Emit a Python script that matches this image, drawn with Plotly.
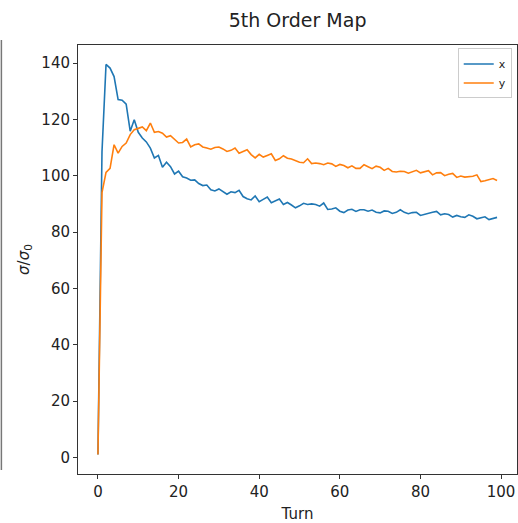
import plotly.graph_objects as go

# Beam size ratio per turn for the 5th order map
turns = list(range(100))

sigma_x = [
    1.0, 108.5, 139.5, 138.2, 135.2, 127.0, 126.8, 125.4, 115.8, 119.9,
    115.4, 113.4, 112.0, 109.8, 106.3, 107.2, 103.0, 104.8, 103.2, 100.6,
    101.6, 99.6, 99.2, 98.4, 98.5, 97.2, 96.5, 96.7, 95.0, 94.6,
    95.3, 94.4, 93.4, 94.3, 94.0, 94.8, 92.6, 91.8, 91.4, 92.8,
    90.8, 91.6, 92.4, 90.4, 91.2, 91.7, 89.8, 90.5, 89.6, 88.6,
    89.3, 90.2, 89.8, 90.0, 89.8, 89.2, 90.3, 88.0, 88.2, 88.6,
    87.4, 86.9, 87.8, 88.1, 87.3, 87.9, 87.9, 87.4, 87.8, 87.0,
    86.8, 87.5, 87.4, 86.6, 87.0, 87.9, 87.0, 86.5, 86.9, 87.0,
    85.9, 86.3, 86.8, 87.0, 87.3, 86.1, 86.5, 86.2, 85.3, 85.9,
    85.4, 85.2, 86.1, 85.6, 84.7, 85.0, 85.4, 84.4, 84.8, 85.2,
]

sigma_y = [
    1.0, 94.0, 101.2, 102.6, 111.0, 108.0, 110.4, 111.6, 114.6, 116.3,
    116.8, 117.3, 116.0, 118.7, 115.4, 115.7, 115.1, 113.7, 114.2, 113.0,
    111.6, 111.8, 113.0, 110.2, 111.0, 111.3, 110.2, 109.8, 109.4, 110.0,
    110.2, 109.5, 108.6, 109.0, 109.8, 108.0, 108.6, 109.2, 107.5, 106.3,
    107.6, 106.6, 107.2, 107.8, 105.4, 106.0, 107.1, 106.2, 105.9, 105.3,
    104.8, 104.6, 106.0, 104.3, 104.5, 104.3, 103.9, 104.5, 104.2, 103.3,
    104.0, 103.6, 102.8, 103.5, 102.6, 102.6, 103.9, 103.2, 102.5, 103.4,
    103.0, 101.9, 102.6, 101.5, 101.3, 101.6, 101.5, 100.9, 101.4, 101.9,
    101.0, 101.3, 101.8, 100.3, 101.0, 101.1, 100.0, 100.5, 100.8, 99.4,
    99.9, 99.5, 99.6, 99.8, 100.3, 97.9, 98.2, 98.5, 99.0, 98.3,
]

x_ticks = [0, 20, 40, 60, 80, 100]
y_ticks = [0, 20, 40, 60, 80, 100, 120, 140]

FONT = "DejaVu Sans"
AXIS_COLOR = "#333333"

fig = go.Figure()
fig.add_trace(go.Scatter(x=turns, y=sigma_x, mode="lines", name="x",
                         line=dict(color="#1f77b4", width=1.6)))
fig.add_trace(go.Scatter(x=turns, y=sigma_y, mode="lines", name="y",
                         line=dict(color="#ff7f0e", width=1.6)))

axis_common = dict(
    showgrid=False, zeroline=False, showline=True, mirror=True,
    linecolor=AXIS_COLOR, linewidth=1,
    ticks="outside", ticklen=4, tickwidth=1, tickcolor=AXIS_COLOR,
    tickfont=dict(family=FONT, size=15, color="#222222"),
)

fig.update_layout(
    width=518, height=523,
    margin=dict(l=78, r=1, t=45, b=49),
    paper_bgcolor="white", plot_bgcolor="white",
    title=dict(text="5th Order Map", x=0.5745, xanchor="center",
               y=0.962, yanchor="middle",
               font=dict(family=FONT, size=19, color="#222222")),
    xaxis=dict(range=[-4.95, 103.95], tickvals=x_ticks,
               title=dict(text="Turn", standoff=8,
                          font=dict(family=FONT, size=15, color="#222222")),
               **axis_common),
    yaxis=dict(range=[-5.9, 146.4], tickvals=y_ticks,
               title=dict(text="<i>σ</i>/<i>σ</i><sub>0</sub>", standoff=8,
                          font=dict(family=FONT, size=15, color="#222222")),
               **axis_common),
    legend=dict(x=0.988, y=0.992, xanchor="right", yanchor="top",
                bgcolor="rgba(255,255,255,0.8)", bordercolor="#cccccc",
                borderwidth=1, font=dict(family=FONT, size=11, color="#222222"),
                itemwidth=30, tracegroupgap=0),
    showlegend=True,
)

# thin border line along the left edge of the page
fig.add_shape(type="line", xref="paper", yref="paper",
              x0=-0.1745, x1=-0.1745, y0=1.0117, y1=0.0093,
              line=dict(color="#777777", width=1.5))

fig.write_html("out.html")
